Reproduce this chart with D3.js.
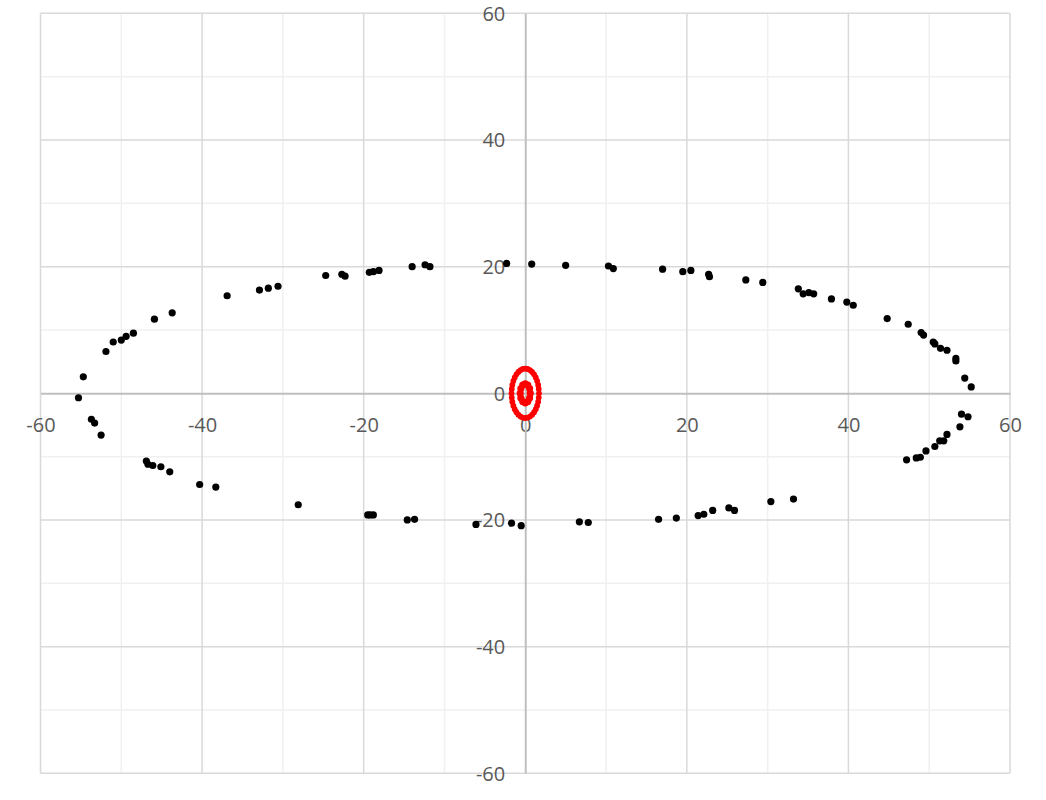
<!DOCTYPE html>
<html>
<head>
<meta charset="utf-8">
<script src="https://cdn.jsdelivr.net/npm/d3@7"></script>
<style>
  html, body { margin: 0; padding: 0; background: #ffffff; }
  svg { display: block; }
</style>
</head>
<body>
<svg id="chart" width="1046" height="800"></svg>
<script>
// ---- data ----
const xTicks = [-60, -40, -20, 0, 20, 40, 60];
const yTicks = [-60, -40, -20, 0, 20, 40, 60];
const gridValues = [-60, -50, -40, -30, -20, -10, 0, 10, 20, 30, 40, 50, 60];

// black series (x, y)
const blackX = [
  -55.3, -54.7, -51.9, -51.0, -50.0, -49.4, -48.5, -45.9, -43.7, -36.9,
  -32.9, -31.8, -30.6, -24.7, -22.7, -22.3, -19.3, -18.8, -18.1, -14.0,
  -12.4, -11.8, -2.3, 0.8, 5.0, 10.3, 10.9, 17.0, 19.5, 20.5,
  22.7, 22.8, 27.3, 29.4, 33.8, 34.4, 35.1, 35.7, 37.9, 39.8,
  40.6, 44.8, 47.4, 49.0, 49.3, 50.5, 50.7, 51.4, 52.2, 53.3,
  53.3, 54.4, 55.2,
  54.0, 54.8, 53.8, 52.2, 51.8, 51.3, 50.7, 49.6, 48.9, 48.4, 47.2,
  33.2, 30.4, 25.9, 25.2, 23.2, 22.1, 21.4, 18.7, 16.5, 7.8,
  6.7, -0.5, -1.7, -6.1, -13.7, -14.6, -18.8, -19.2, -19.5, -28.1,
  -38.3, -40.3, -44.0, -45.1, -46.1, -46.7, -46.9, -52.5, -53.3, -53.7
];
const blackY = [
  -0.7, 2.6, 6.6, 8.1, 8.4, 9.0, 9.5, 11.7, 12.7, 15.4,
  16.3, 16.6, 16.9, 18.6, 18.8, 18.5, 19.1, 19.2, 19.4, 20.0,
  20.3, 20.0, 20.5, 20.4, 20.2, 20.1, 19.7, 19.6, 19.2, 19.4,
  18.8, 18.4, 17.9, 17.5, 16.5, 15.7, 15.9, 15.7, 14.9, 14.4,
  13.9, 11.8, 10.9, 9.6, 9.2, 8.1, 7.8, 7.1, 6.8, 5.5,
  5.1, 2.4, 1.0,
  -3.3, -3.7, -5.3, -6.5, -7.5, -7.5, -8.4, -9.1, -10.1, -10.2, -10.5,
  -16.7, -17.1, -18.5, -18.1, -18.5, -19.1, -19.3, -19.7, -19.9, -20.4,
  -20.3, -20.9, -20.5, -20.7, -19.9, -20.0, -19.2, -19.2, -19.2, -17.6,
  -14.8, -14.4, -12.4, -11.6, -11.4, -11.2, -10.7, -6.6, -4.7, -4.1
];

// red series: outer ring around the origin
const redOuterX = [
  1.70, 1.67, 1.60, 1.47, 1.30, 1.09, 0.85, 0.58, 0.30, 0.00,
  -0.30, -0.58, -0.85, -1.09, -1.30, -1.47, -1.60, -1.67, -1.70,
  -1.67, -1.60, -1.47, -1.30, -1.09, -0.85, -0.58, -0.30, 0.00,
  0.30, 0.58, 0.85, 1.09, 1.30, 1.47, 1.60, 1.67
];
const redOuterY = [
  0.00, 0.68, 1.33, 1.95, 2.51, 2.99, 3.38, 3.67, 3.84, 3.90,
  3.84, 3.67, 3.38, 2.99, 2.51, 1.95, 1.33, 0.68, 0.00,
  -0.68, -1.33, -1.95, -2.51, -2.99, -3.38, -3.67, -3.84, -3.90,
  -3.84, -3.67, -3.38, -2.99, -2.51, -1.95, -1.33, -0.68
];
// red series: inner ring
const redInnerX = [0.62, 0.54, 0.31, 0.00, -0.31, -0.54, -0.62, -0.54, -0.31, 0.00, 0.31, 0.54];
const redInnerY = [0.00, 0.75, 1.30, 1.50, 1.30, 0.75, 0.00, -0.75, -1.30, -1.50, -1.30, -0.75];

// ---- drawing ----
const svg = d3.select("#chart");
const plot = { left: 40.5, top: 13.3, right: 1010, bottom: 773.3 };

const x = d3.scaleLinear().domain([-60, 60]).range([plot.left, plot.right]);
const y = d3.scaleLinear().domain([-60, 60]).range([plot.bottom, plot.top]);

const grid = svg.append("g");
const minors = gridValues.filter(v => v % 20 !== 0);
const majors = gridValues.filter(v => v % 20 === 0 && v !== 0);
grid.selectAll("line.vminor").data(minors).join("line")
  .attr("x1", d => x(d)).attr("x2", d => x(d))
  .attr("y1", plot.top).attr("y2", plot.bottom)
  .attr("stroke", "#f0f0f0").attr("stroke-width", 1.5);
grid.selectAll("line.hminor").data(minors).join("line")
  .attr("y1", d => y(d)).attr("y2", d => y(d))
  .attr("x1", plot.left).attr("x2", plot.right)
  .attr("stroke", "#f0f0f0").attr("stroke-width", 1.5);
grid.selectAll("line.vmajor").data(majors).join("line")
  .attr("x1", d => x(d)).attr("x2", d => x(d))
  .attr("y1", plot.top).attr("y2", plot.bottom)
  .attr("stroke", "#d9d9d9").attr("stroke-width", 1.5);
grid.selectAll("line.hmajor").data(majors).join("line")
  .attr("y1", d => y(d)).attr("y2", d => y(d))
  .attr("x1", plot.left).attr("x2", plot.right)
  .attr("stroke", "#d9d9d9").attr("stroke-width", 1.5);

// axes through zero
const fontFamily = "'Open Sans', 'Liberation Sans', sans-serif";
const fmt = d => String(d);
const xAxis = d3.axisBottom(x).tickValues(xTicks).tickSize(0).tickFormat(fmt);
const yAxis = d3.axisLeft(y).tickValues(yTicks).tickSize(0).tickFormat(fmt);

const gx = svg.append("g").attr("transform", `translate(0,${y(0)})`).call(xAxis);
gx.select(".domain").attr("stroke", "#bfbfbf").attr("stroke-width", 2);
gx.selectAll("text")
  .attr("y", 32).attr("dy", "0.35em")
  .attr("fill", "#595959").attr("font-size", 20).attr("font-family", fontFamily);

const gy = svg.append("g").attr("transform", `translate(${x(0)},0)`).call(yAxis);
gy.select(".domain").attr("stroke", "#bfbfbf").attr("stroke-width", 2);
gy.selectAll("text")
  .attr("x", -20).attr("dy", "0.35em")
  .attr("fill", "#595959").attr("font-size", 20).attr("font-family", fontFamily);

// black points
svg.append("g").selectAll("circle")
  .data(d3.range(blackX.length))
  .join("circle")
  .attr("cx", i => x(blackX[i]))
  .attr("cy", i => y(blackY[i]))
  .attr("r", 3.6)
  .attr("fill", "#000000");

// red points
const red = svg.append("g").attr("fill", "#ff0000");
red.selectAll("circle.outer")
  .data(d3.range(redOuterX.length))
  .join("circle")
  .attr("cx", i => x(redOuterX[i]))
  .attr("cy", i => y(redOuterY[i]))
  .attr("r", 2.9);
red.selectAll("circle.inner")
  .data(d3.range(redInnerX.length))
  .join("circle")
  .attr("class", "inner")
  .attr("cx", i => x(redInnerX[i]))
  .attr("cy", i => y(redInnerY[i]))
  .attr("r", 3.6);
</script>
</body>
</html>
